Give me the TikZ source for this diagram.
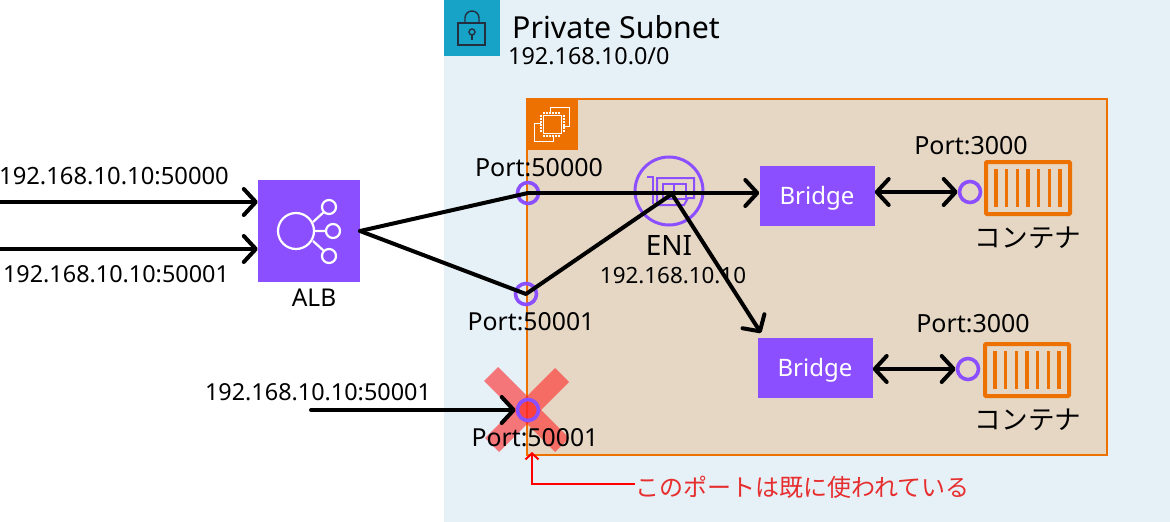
\documentclass[tikz,border=0pt]{standalone}
\usepackage{fontspec}
\setmainfont{Noto Sans}
\newfontfamily\cjkfam{Noto Sans CJK JP}
\usetikzlibrary{arrows.meta,calc}
\definecolor{subnet}{HTML}{E6F0F7}
\definecolor{teal}{HTML}{17A2C8}
\definecolor{ecbg}{HTML}{E6D7C5}
\definecolor{ecline}{HTML}{ED7100}
\definecolor{purp}{HTML}{8C4FFF}
\definecolor{lockc}{HTML}{232F3E}
\definecolor{notec}{HTML}{E62E2E}
\tikzset{
 x=1pt,y=-1pt,
 lbl/.style={inner sep=0pt,font=\fontsize{23.4}{26}\selectfont,text=black},
 portlbl/.style={inner sep=0pt,font=\fontsize{25}{27}\selectfont,text=black},
 cjklbl/.style={inner sep=0pt,font=\cjkfam\fontsize{26.6}{28}\selectfont,text=black},
 brbox/.style={fill=purp,text=white,minimum width=115pt,minimum height=60pt,inner sep=0pt,font=\fontsize{24}{26}\selectfont},
 conn/.style={line width=4pt,draw=black,-{Straight Barb[length=12pt,width=26pt,line width=4pt,round]},line cap=round},
 plain/.style={line width=4pt,draw=black,line cap=round,line join=round},
 dconn/.style={line width=4pt,draw=black,{Straight Barb[length=12pt,width=26pt,line width=4pt,round]}-{Straight Barb[length=12pt,width=26pt,line width=4pt,round]},line cap=round},
 port/.style={circle,draw=purp,line width=3.6pt,minimum size=21pt,inner sep=0pt},
}
\begin{document}
\begin{tikzpicture}
\useasboundingbox (0,0) rectangle (1170,522);
\fill[white] (0,0) rectangle (1170,522);
\fill[subnet] (444,0) rectangle (1170,522);
\fill[teal] (444,0) rectangle (500,56);
% lock
\draw[lockc,line width=1.4pt] (458,23) rectangle (485,45);
\draw[lockc,line width=1.4pt] (465,23) -- (465,18) arc[start angle=180,end angle=360,radius=7] -- (479,23);
\draw[lockc,line width=1.4pt] (472,32) circle[radius=3];
\draw[lockc,line width=1.4pt] (472,35) -- (472,40);
\node[lbl,anchor=west,font=\fontsize{30.3}{32}\selectfont] (title) at (512,27) {Private Subnet};
\node[lbl,anchor=west] (cidr) at (508,56) {192.168.10.0/0};
% instance box
\draw[ecline,fill=ecbg,line width=1.6pt] (527,99) rectangle (1107,455);
\fill[ecline] (526,98) rectangle (578,150);
\begin{scope}[white,line width=1pt]
\draw (541,123) -- (534,123) -- (534,141) -- (553,141) -- (553,137);
\draw (550,112) -- (550,107) -- (569,107) -- (569,126) -- (563,126);
\draw (543,115) rectangle (561,133);
\draw[dash pattern=on 1.5pt off 1.5pt,line width=2pt] (540.5,115) -- (540.5,133) (563.5,115) -- (563.5,133) (543,112.5) -- (561,112.5) (543,135.5) -- (561,135.5);
\end{scope}
% ALB
\node[fill=purp,minimum size=102pt,inner sep=0pt] (alb) at (309,231) {};
\begin{scope}[white,line width=2.2pt]
\draw (296,231) circle[radius=18];
\draw (329,207) circle[radius=7] (333,231) circle[radius=7] (329,256) circle[radius=7];
\draw (313,222) -- (324,212) (314,231) -- (326,231) (313,241) -- (324,251);
\end{scope}
\node[lbl,font=\fontsize{24.5}{26}\selectfont] (alblbl) at (314,298) {ALB};
% ENI
\node[circle,draw=purp,line width=3pt,minimum size=68pt,inner sep=0pt] (eni) at (669,191) {};
\begin{scope}[purp,line width=2pt]
\draw (647,177) -- (653,177) -- (653,204);
\draw (657,205) -- (657,178) -- (694,178) -- (694,198) -- (688,198) -- (684,205) -- cycle;
\draw (663,184) rectangle (686,199);
\draw (674,184) -- (674,199);
\end{scope}
\node[lbl,font=\fontsize{28}{30}\selectfont] (enilbl) at (669,246) {ENI};
\node[lbl,font=\fontsize{22.4}{25}\selectfont] (eniip) at (673,276) {192.168.10.10};
\coordinate (hub) at (672,194);
% bridges
\node[brbox] (b1) at (817,196) {\smash{\raisebox{-8.5pt}{Bridge}}};
\node[brbox] (b2) at (815,368) {\smash{\raisebox{-8.5pt}{Bridge}}};
% red cross
\fill[fill=red!85!white,opacity=.6] (498,367) -- (569,438) -- (555,452) -- (484,381) -- cycle;
\fill[fill=red!85!white,opacity=.6] (555,368) -- (569,382) -- (499,452) -- (485,438) -- cycle;
% ports
\node[port] (p0) at (528,193) {};
\node[port] (p1) at (526,294) {};
\node[port] (c1) at (970,192) {};
\node[port] (c2) at (968,369) {};
\node[port] (p2) at (528,410) {};
% containers
\foreach \cx/\cy in {1028/188,1027/370}{
 \draw[ecline,line width=4pt,rounded corners=1pt] (\cx-42,\cy-26) rectangle (\cx+42,\cy+26);
 \foreach \d in {-32,-21.33,-10.67,0,10.67,21.33,32} \draw[ecline,line width=3.4pt] (\cx+\d,\cy-19) -- (\cx+\d,\cy+19);
}
\node[cjklbl] (k1) at (1028,238) {コンテナ};
\node[cjklbl] (k2) at (1028,420) {コンテナ};
\node[portlbl] (pc1) at (971,146) {Port:3000};
\node[portlbl] (pc2) at (973,324) {Port:3000};
% connectors
\coordinate (in1) at (0,202); \coordinate (in2) at (0,249); \coordinate (in3) at (311,410);
\coordinate (albr) at (360,231);
\draw[conn] (in1) -- (alb.west |- in1);
\draw[conn] (in2) -- (alb.west |- in2);
\draw[plain] (albr) -- (p0.center);
\draw[plain] (albr) -- (p1.center) -- (hub);
\draw[conn] (p0.center) -- (b1.west |- p0);
\draw[conn] (hub) -- (761,333);
\draw[dconn] (b1.east |- c1) -- (c1.west);
\draw[dconn] (b2.east |- c2) -- (c2.west);
\draw[conn] (in3) -- (p2.west);
% port labels
\node[lbl,font=\fontsize{23.8}{26}\selectfont] (t1) at (114,176) {192.168.10.10:50000};
\node[lbl] (t2) at (116,274) {192.168.10.10:50001};
\node[lbl] (t3) at (318,392) {192.168.10.10:50001};
\node[portlbl] (lp0) at (539,168) {Port:50000};
\node[portlbl,font=\fontsize{24.8}{27}\selectfont] (lp1) at (531,322) {Port:50001};
\node[portlbl,font=\fontsize{24.8}{27}\selectfont] (lp2) at (535,438) {Port:50001};
% red note
\node[cjklbl,anchor=west,text=notec,font=\cjkfam\fontsize{24}{26}\selectfont] (note) at (635,487) {このポートは既に使われている};
\draw[red,line width=2pt,-{Straight Barb[length=6pt,width=13pt,line width=2pt]}] (note.west |- 0,484) -- (532,484) -- (532,452);
\end{tikzpicture}
\end{document}
